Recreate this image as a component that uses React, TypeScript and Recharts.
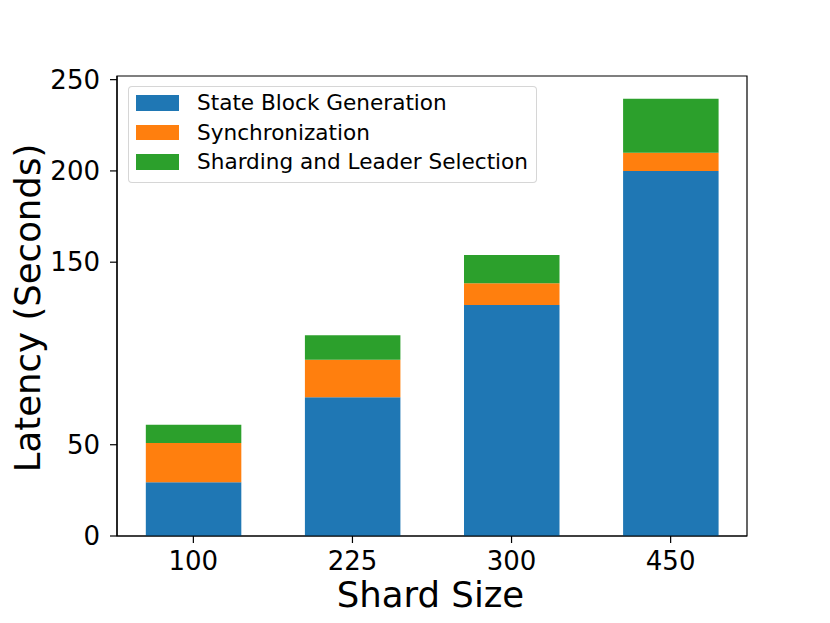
import { Bar, BarChart, ReferenceArea, XAxis, YAxis } from 'recharts'

// shard sizes on the x axis, latency parts in seconds (stacked)
const shardSizes = ['100', '225', '300', '450']
const stateBlockGeneration = [29.5, 76, 126.5, 200]
const synchronization = [21.5, 20.5, 12, 10]
const shardingLeaderSelection = [10, 13.5, 15.5, 29.5]
const yTicks = [0, 50, 150, 200, 250]

const FONT = '"DejaVu Sans", sans-serif'
const TICK_FS = 26

const series = [
  { key: 'stateBlock', name: 'State Block Generation', color: '#1f77b4' },
  { key: 'sync', name: 'Synchronization', color: '#ff7f0e' },
  { key: 'sharding', name: 'Sharding and Leader Selection', color: '#2ca02c' },
]

const data = shardSizes.map((label, i) => ({
  pos: i,
  label,
  stateBlock: stateBlockGeneration[i],
  sync: synchronization[i],
  sharding: shardingLeaderSelection[i],
}))

function XTick(props: any) {
  const { x, payload } = props
  // baseline sits ~33px under the spine
  return (
    <text x={x} y={569.5} textAnchor="middle" fontSize={TICK_FS} fontFamily={FONT} fill="#000">
      {shardSizes[payload.value]}
    </text>
  )
}

function YTick(props: any) {
  const { y, payload } = props
  return (
    <text x={100} y={y} dy="0.355em" textAnchor="end" fontSize={TICK_FS} fontFamily={FONT} fill="#000">
      {payload.value}
    </text>
  )
}

function XTitle(props: any) {
  const vb = props.viewBox ?? { x: 117, y: 536, width: 630 }
  return (
    <text
      x={vb.x + vb.width / 2 - 1.5}
      y={vb.y + 71}
      textAnchor="middle"
      fontSize={35.5}
      fontFamily={FONT}
      fill="#000"
    >
      Shard Size
    </text>
  )
}

function YTitle(props: any) {
  const vb = props.viewBox ?? { x: 0, y: 76, height: 460 }
  const cx = 27
  const cy = vb.y + vb.height / 2 + 2
  return (
    <text
      x={cx}
      y={cy}
      transform={`rotate(-90 ${cx} ${cy})`}
      textAnchor="middle"
      dominantBaseline="central"
      fontSize={35.5}
      fontFamily={FONT}
      fill="#000"
    >
      Latency (Seconds)
    </text>
  )
}

function LegendBox() {
  return (
    <div
      style={{
        position: 'absolute',
        left: 128,
        top: 86,
        width: 409,
        height: 97,
        boxSizing: 'border-box',
        border: '1px solid rgba(204,204,204,0.8)',
        borderRadius: 4,
        background: 'rgba(255,255,255,0.8)',
        paddingTop: 1,
        paddingLeft: 7,
        fontFamily: FONT,
        fontSize: 21.6,
        color: '#000',
      }}
    >
      {series.map((s) => (
        <div key={s.key} style={{ display: 'flex', alignItems: 'center', height: 29.7 }}>
          <span style={{ display: 'block', width: 43, height: 15.5, background: s.color }} />
          <span style={{ marginLeft: 18, lineHeight: 1, whiteSpace: 'nowrap' }}>{s.name}</span>
        </div>
      ))}
    </div>
  )
}

export default function App() {
  return (
    <div style={{ position: 'absolute', left: 0, top: 0, width: 830, height: 623, background: '#fff' }}>
      <BarChart
        width={830}
        height={623}
        data={data}
        margin={{ top: 76, right: 83, bottom: 0, left: 0 }}
      >
        <XAxis
          type="number"
          dataKey="pos"
          domain={[-0.48, 3.48]}
          ticks={[0, 1, 2, 3]}
          height={87}
          tickSize={7}
          tick={<XTick />}
          tickLine={{ stroke: '#000', strokeWidth: 1.2 }}
          axisLine={{ stroke: '#000', strokeWidth: 1.2 }}
          label={<XTitle />}
        />
        <YAxis
          domain={[0, 252]}
          ticks={yTicks}
          width={117}
          tickSize={7}
          tick={<YTick />}
          tickLine={{ stroke: '#000', strokeWidth: 1.2 }}
          axisLine={{ stroke: '#000', strokeWidth: 1.2 }}
          label={<YTitle />}
        />
        {series.map((s) => (
          <Bar
            key={s.key}
            dataKey={s.key}
            name={s.name}
            stackId="latency"
            fill={s.color}
            barSize={95.5}
            isAnimationActive={false}
          />
        ))}
        <ReferenceArea
          x1={-0.48}
          x2={3.48}
          y1={0}
          y2={252}
          fill="none"
          fillOpacity={0}
          stroke="#000"
          strokeWidth={1.2}
          ifOverflow="visible"
        />
      </BarChart>
      <LegendBox />
    </div>
  )
}
